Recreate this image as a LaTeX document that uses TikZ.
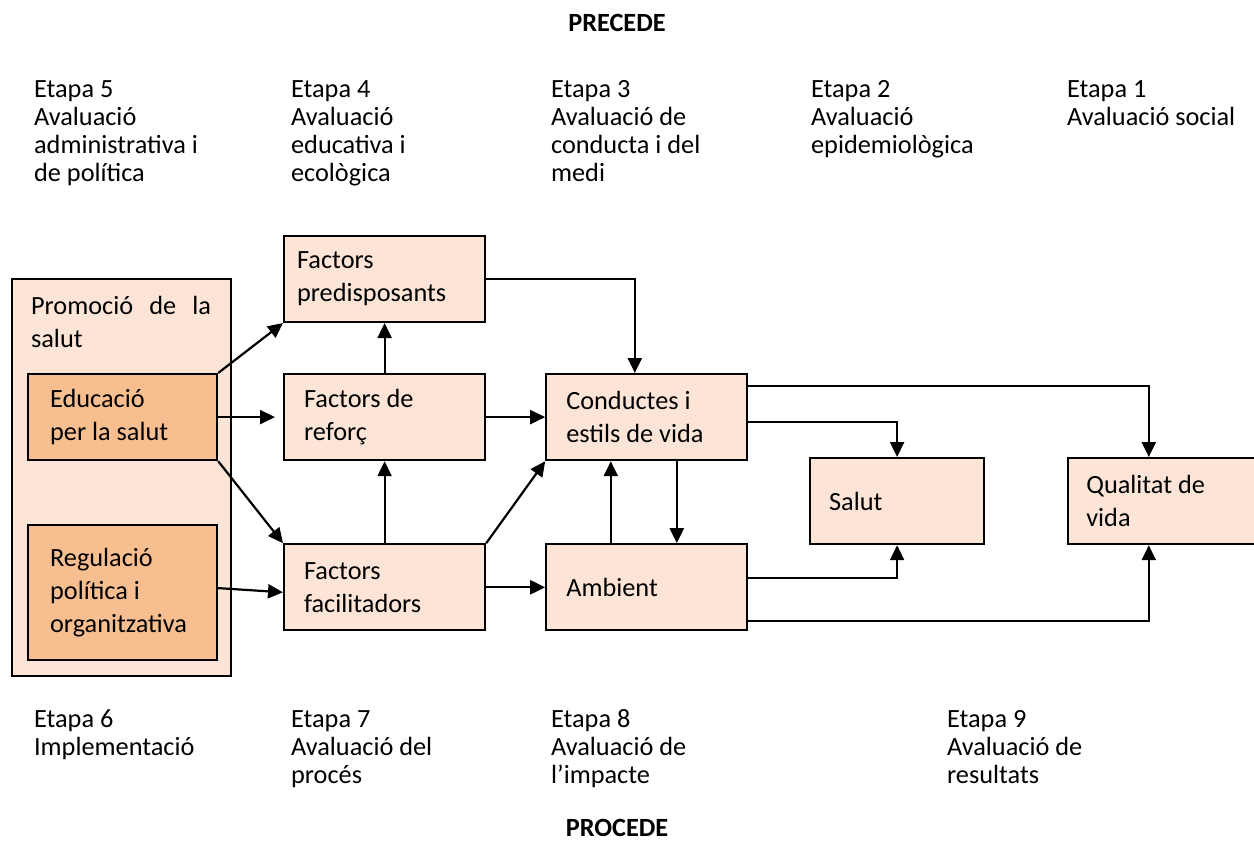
\documentclass[tikz,border=0pt]{standalone}
\usepackage{fontspec}
\setmainfont{Carlito}
\usepackage{tikz}
\usetikzlibrary{positioning}
\usetikzlibrary{shapes, arrows.meta}
\definecolor{peach}{HTML}{FCE5D7}
\definecolor{edufill}{HTML}{F7BF90}
\newcommand{\boxfont}{\fontsize{13.15pt}{16.5pt}\selectfont}
\newcommand{\etapafont}{\fontsize{13.15pt}{14pt}\selectfont}
\tikzstyle{box} = [rectangle, draw, fill=peach, align=flush left, text width=80.5pt, inner xsep=10pt, inner ysep=0pt, minimum height=43pt, font=\boxfont]
\tikzstyle{etapa} = [align=left, inner sep=0pt, anchor=base west, font=\etapafont]
\tikzstyle{line} = [draw, -{Triangle[length=7.5pt,width=7pt]}]

\begin{document}
\begin{tikzpicture}[x=0.5pt, y=-0.5pt, line width=1.1pt, node distance=25pt]
    \useasboundingbox (0,0) rectangle (1254,848);

    \node [font=\etapafont\bfseries, inner sep=0pt, anchor=base] (precede) at (617,31) {PRECEDE};
    \node [font=\etapafont\bfseries, inner sep=0pt, anchor=base] (procede) at (617,836) {PROCEDE};

    % etapa nodes are placed by the baseline of their last line
    \node [etapa] (etapa5) at (33,181) {Etapa 5\\Avaluació\\administrativa i\\de política};
    \node [etapa] (etapa4) at (290,181) {Etapa 4\\Avaluació\\educativa i\\ecològica};
    \node [etapa] (etapa3) at (550,181) {Etapa 3\\Avaluació de\\conducta i del\\medi};
    \node [etapa] (etapa2) at (810,153) {Etapa 2\\Avaluació\\epidemiològica};
    \node [etapa] (etapa1) at (1066,125) {Etapa 1\\Avaluació social};

    \node [etapa] (etapa6) at (33,755) {Etapa 6\\Implementació};
    \node [etapa] (etapa7) at (290,783) {Etapa 7\\Avaluació del\\procés};
    \node [etapa] (etapa8) at (550,783) {Etapa 8\\Avaluació de\\l’impacte};
    \node [etapa] (etapa9) at (946,783) {Etapa 9\\Avaluació de\\resultats};

    \node [rectangle, draw, fill=peach, inner sep=0pt, minimum width=109.5pt, minimum height=198.5pt, anchor=north west] (promocio) at (11,278) {};
    \node [inner sep=0pt, text width=90pt, align=justify, anchor=base west, font=\boxfont] (promocio_text) at (30,314) {Promoció de la salut};
    \node [box, fill=edufill, text width=72.5pt, inner xsep=11pt, anchor=north west] (educacio) at (27,373) {Educació\\per la salut};
    \node [box, fill=edufill, text width=72.5pt, inner xsep=11pt, minimum height=67.5pt, anchor=north west] (regulacio) at (27,524) {Regulació\\política i\\organitzativa};

    \node [box, anchor=north west] (reforc) at (283,373) {Factors de\\reforç};
    \node [box, text width=87.5pt, inner xsep=6.5pt, above=of reforc] (predisposants) {Factors\\predisposants};
    \node [box, below=41pt of reforc] (facilitadors) {Factors\\facilitadors};
    \node [box, right=29.5pt of reforc] (conductes) {Conductes i\\estils de vida};
    \node [box, right=29.5pt of facilitadors] (ambient) {Ambient};
    \node [box, text width=68pt, inner xsep=9.5pt, anchor=north west] (salut) at (809,457) {Salut};
    \node [box, text width=80.5pt, inner xsep=9pt, right=41pt of salut] (qualitat) {Qualitat de\\vida};

    \path [line] (educacio.north east) -- (predisposants.south west);
    \path [line] (educacio.east) -- ([xshift=-4pt]reforc.west);
    \path [line] (educacio.south east) -- (facilitadors.north west);
    \path [line] ([yshift=2.25pt]regulacio.east) -- ([yshift=-2.5pt]facilitadors.west);
    \path [line] (reforc) -- (predisposants);
    \path [line] (facilitadors) -- (reforc);
    \path [line] (reforc) -- (conductes);
    \path [line] (facilitadors) -- (ambient);
    \path [line] (facilitadors.north east) -- (conductes.south west);
    \path [line] (predisposants) -| ([xshift=-6pt]conductes.north);
    \path [line] ([xshift=-18pt]ambient.north) -- ([xshift=-18pt]conductes.south);
    \path [line] ([xshift=15pt]conductes.south) -- ([xshift=15pt]ambient.north);
    \path [line] ([yshift=-2.5pt]conductes.east) -| (salut.north);
    \path [line] ([yshift=15.5pt]conductes.east) -| ([xshift=-9pt]qualitat.north);
    \path [line] ([yshift=4.5pt]ambient.east) -| (salut.south);
    \path [line] ([yshift=-17pt]ambient.east) -| ([xshift=-9pt]qualitat.south);

  \end{tikzpicture}
\end{document}
